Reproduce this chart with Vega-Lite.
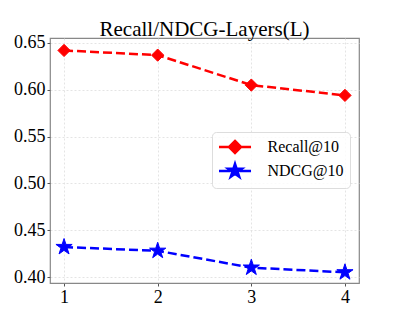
{
  "$schema": "https://vega.github.io/schema/vega-lite/v6.json",
  "width": 309,
  "height": 245,
  "autosize": {"type": "none"},
  "padding": {"left": 50, "top": 38, "right": 40, "bottom": 36},
  "background": "white",
  "title": {"text": "Recall/NDCG-Layers(L)", "font": "Liberation Serif", "fontSize": 21, "fontWeight": "normal", "color": "black", "anchor": "middle", "baseline": "alphabetic", "frame": "group", "offset": 5, "dy": 28},
  "config": {
    "view": {"stroke": "#888888", "strokeWidth": 1.2},
    "axis": {"labelFont": "Liberation Serif", "labelFontSize": 18, "labelColor": "black", "gridColor": "#dddddd", "gridDash": [2, 2], "gridWidth": 0.8, "domain": false, "tickColor": "#555555", "tickSize": 3, "labelPadding": 2, "title": null}
  },
  "data": {"values": [
    {"layer": 1, "value": 0.642, "series": "Recall@10"},
    {"layer": 2, "value": 0.637, "series": "Recall@10"},
    {"layer": 3, "value": 0.605, "series": "Recall@10"},
    {"layer": 4, "value": 0.594, "series": "Recall@10"},
    {"layer": 1, "value": 0.432, "series": "NDCG@10"},
    {"layer": 2, "value": 0.428, "series": "NDCG@10"},
    {"layer": 3, "value": 0.410, "series": "NDCG@10"},
    {"layer": 4, "value": 0.405, "series": "NDCG@10"}
  ]},
  "encoding": {
    "x": {"field": "layer", "type": "quantitative", "scale": {"domain": [0.85, 4.15], "nice": false, "zero": false}, "axis": {"values": [1, 2, 3, 4], "format": "d"}},
    "y": {"field": "value", "type": "quantitative", "scale": {"domain": [0.3936, 0.6553], "nice": false, "zero": false}, "axis": {"values": [0.40, 0.45, 0.50, 0.55, 0.60, 0.65], "format": ".2f"}},
    "stroke": {
      "field": "series", "type": "nominal",
      "scale": {"domain": ["Recall@10", "NDCG@10"], "range": ["#ff0000", "#0000ff"]},
      "legend": {
        "title": null, "orient": "none", "legendX": 162, "legendY": 94,
        "labelFont": "Liberation Serif", "labelFontSize": 16, "labelColor": "black",
        "symbolSize": 256, "symbolOffset": 8, "labelOffset": 23, "padding": 5.5, "rowPadding": 0,
        "symbolStrokeWidth": 2.5, "symbolDash": [], "symbolOpacity": 1,
        "fillColor": "rgba(255,255,255,0.8)", "strokeColor": "#dddddd", "cornerRadius": 4
      }
    }
  },
  "layer": [
    {
      "mark": {"type": "line", "strokeDash": [9, 4], "strokeWidth": 2.5}
    },
    {
      "mark": {"type": "point", "size": 0, "opacity": 1, "strokeWidth": 2.5},
      "encoding": {
        "fill": {"field": "series", "type": "nominal", "scale": {"domain": ["Recall@10", "NDCG@10"], "range": ["#ff0000", "#0000ff"]}},
        "shape": {"field": "series", "type": "nominal", "scale": {"domain": ["Recall@10", "NDCG@10"], "range": ["M-2,0H-0.6M0.6,0H2M0,-0.75L0.75,0L0,0.75L-0.75,0Z", "M-2,0H-0.6M0.6,0H2M0,-0.9L0.202,-0.278L0.856,-0.278L0.327,0.106L0.529,0.728L0,0.344L-0.529,0.728L-0.327,0.106L-0.856,-0.278L-0.202,-0.278Z"]}}
      }
    },
    {
      "transform": [{"filter": "datum.series === 'Recall@10'"}],
      "mark": {"type": "point", "shape": "diamond", "size": 150, "opacity": 1, "strokeWidth": 1},
      "encoding": {
        "fill": {"field": "series", "type": "nominal"}
      }
    },
    {
      "transform": [{"filter": "datum.series === 'NDCG@10'"}],
      "mark": {"type": "point", "shape": "M0,-1L0.2245,-0.309L0.951,-0.309L0.363,0.118L0.588,0.809L0,0.382L-0.588,0.809L-0.363,0.118L-0.951,-0.309L-0.2245,-0.309Z", "size": 290, "opacity": 1, "strokeWidth": 1},
      "encoding": {
        "fill": {"field": "series", "type": "nominal"}
      }
    }
  ]
}
